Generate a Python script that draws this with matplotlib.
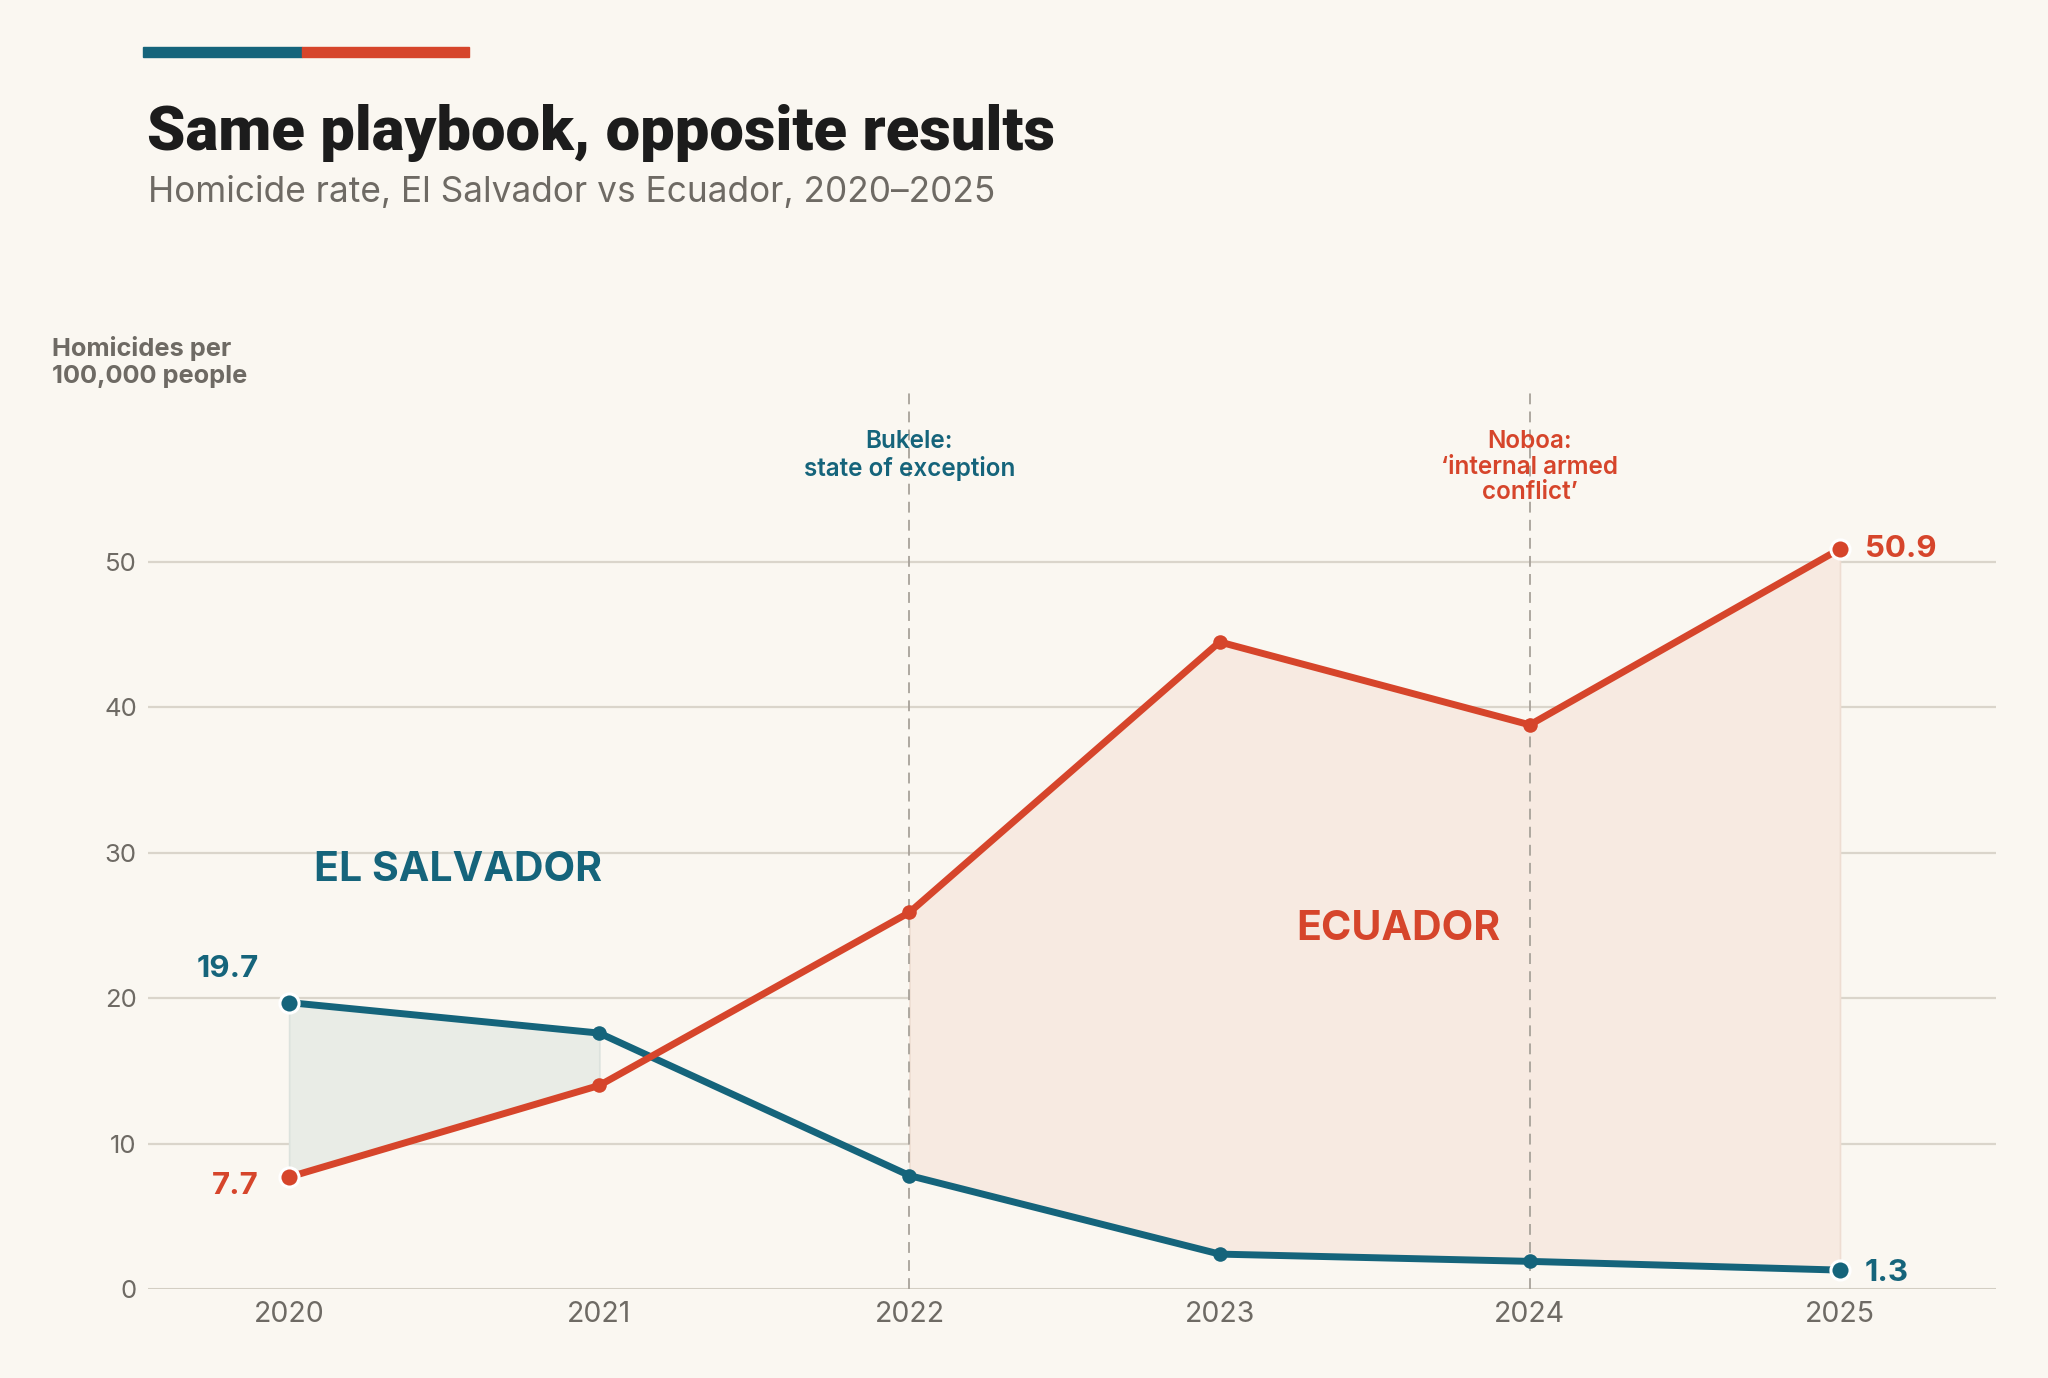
import matplotlib.pyplot as plt

plt.rcParams['font.family'] = ['Inter', 'DejaVu Sans']

years = [2020, 2021, 2022, 2023, 2024, 2025]
el_salvador = [19.7, 17.6, 7.8, 2.4, 1.9, 1.3]
ecuador = [7.7, 14.0, 25.9, 44.5, 38.8, 50.9]
y_ticks = [0, 10, 20, 30, 40, 50]
events = [(2022, 'Bukele:\nstate of exception', 'es'),
          (2024, 'Noboa:\n\u2018internal armed\nconflict\u2019', 'ec')]

BG = '#FAF7F1'
TEAL = '#15647B'
RED = '#D6452B'
GREY = '#6E6A64'
GRID = '#DAD5CB'

W, H = 2048, 1378
def fx(px): return px / W
def fy(py): return 1 - py / H

fig = plt.figure(figsize=(W / 100, H / 100), dpi=100, facecolor=BG)
ax = fig.add_axes([fx(148), fy(1289), fx(1996) - fx(148), fy(392.6) - fy(1289)])
ax.set_facecolor(BG)
ax.set_xlim(2019.545, 2025.503)
ax.set_ylim(0, 61.65)

# shaded gaps
ax.fill_between(years[:2], ecuador[:2], el_salvador[:2], facecolor='#E9ECE6',
                edgecolor='#DCE2DD', lw=1.2, zorder=1)
ax.fill_between(years[2:], el_salvador[2:], ecuador[2:], facecolor='#F7EAE1',
                edgecolor='#EEDDD2', lw=1.2, zorder=1)

# grid
for t in y_ticks[1:]:
    ax.axhline(t, color=GRID, lw=1.6, zorder=0.5)
ax.axhline(0, color='#D3CEC3', lw=2.2, zorder=0.6)

# event lines
for x, label, who in events:
    ax.axvline(x, color='#A8A29A', lw=1.3, ls=(0, (6, 4)), zorder=2)
    ax.text(x, 59.05, label, ha='center', va='top', fontsize=17.5, fontweight='semibold',
            color=TEAL if who == 'es' else RED, linespacing=1.14, zorder=5)

# lines
for vals, c in [(el_salvador, TEAL), (ecuador, RED)]:
    ax.plot(years, vals, color=c, lw=5, solid_capstyle='round', solid_joinstyle='round', zorder=3)
    ax.scatter(years[1:-1], vals[1:-1], s=110, color=c, zorder=4, lw=0)
    ax.scatter([years[0], years[-1]], [vals[0], vals[-1]], s=190, color=c,
               edgecolor='white', lw=2.2, zorder=4, clip_on=False)

# value labels
lab = dict(fontsize=22.5, fontweight='bold', va='center_baseline', textcoords='offset points')
ax.annotate(f'{el_salvador[0]}', (years[0], el_salvador[0]), xytext=(-22, 26), ha='right',
            color=TEAL, **lab)
ax.annotate(f'{ecuador[0]}', (years[0], ecuador[0]), xytext=(-22, -4), ha='right',
            color=RED, **lab)
ax.annotate(f'{ecuador[-1]}', (years[-1], ecuador[-1]), xytext=(18, 2), ha='left',
            color=RED, **lab)
ax.annotate(f'{el_salvador[-1]}', (years[-1], el_salvador[-1]), xytext=(18, 0), ha='left',
            color=TEAL, **lab)

# series names
ax.text(2020.08, 29.1, 'EL SALVADOR', ha='left', va='center_baseline', fontsize=29.5,
        fontweight='bold', color=TEAL)
ax.text(2023.575, 25.0, 'ECUADOR', ha='center', va='center_baseline', fontsize=29.5,
        fontweight='bold', color=RED)

# axes styling
for s in ax.spines.values():
    s.set_visible(False)
ax.set_xticks(years)
ax.set_xticklabels([str(y) for y in years])
ax.set_yticks(y_ticks)
ax.tick_params(axis='x', length=0, pad=9, labelsize=20.5, labelcolor=GREY)
ax.tick_params(axis='y', length=0, pad=8, labelsize=18.5, labelcolor=GREY)

# header
fig.patches.append(plt.Rectangle((fx(143), fy(57)), fx(302) - fx(143), fy(47) - fy(57),
                                 transform=fig.transFigure, color=TEAL))
fig.patches.append(plt.Rectangle((fx(302), fy(57)), fx(469) - fx(302), fy(47) - fy(57),
                                 transform=fig.transFigure, color=RED))
fig.text(fx(147), fy(150), 'Same playbook, opposite results', fontsize=44.3, fontweight='black',
         color='#1C1C1C', va='baseline', family=['Roboto', 'DejaVu Sans'])
fig.text(fx(148), fy(202), 'Homicide rate, El Salvador vs Ecuador, 2020\u20132025', fontsize=25.4,
         color=GREY, va='baseline')
fig.text(fx(52), fy(356), 'Homicides per', fontsize=18.3, fontweight='bold', color=GREY, va='baseline')
fig.text(fx(52), fy(383), '100,000 people', fontsize=18.3, fontweight='bold', color=GREY, va='baseline')

fig.savefig('out.png', dpi=100, facecolor=BG)
